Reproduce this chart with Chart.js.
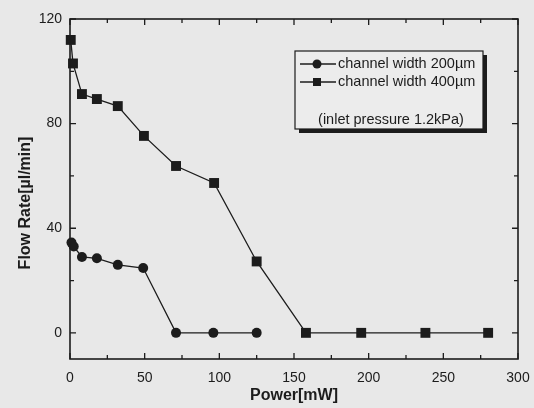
<!DOCTYPE html>
<html>
<head>
<meta charset="utf-8">
<script src="https://cdn.jsdelivr.net/npm/chart.js@4"></script>
<style>
  html, body { margin: 0; padding: 0; background: #e8e8e8; }
  #wrap { width: 534px; height: 408px; }
</style>
</head>
<body>
<div id="wrap"><canvas id="flowChart" width="534" height="408"></canvas></div>
<script>
// values
const power200 = [1, 2.5, 8, 18, 32, 49, 71, 96, 125];
const flow200 = [34.5, 33, 29, 28.5, 26, 24.8, 0, 0, 0];
const power400 = [0.5, 2, 8, 18, 32, 49.5, 71, 96.5, 125, 158, 195, 238, 280];
const flow400 = [112, 103, 91.3, 89.4, 86.7, 75.3, 63.8, 57.3, 27.3, 0, 0, 0, 0];

const xMajor = [0, 50, 100, 150, 200, 250, 300];
const xMinor = [25, 75, 125, 175, 225, 275];
const yMajor = [0, 40, 80, 120];
const yMinor = [20, 60, 100];

const legendLabels = ['channel width 200\u00b5m', 'channel width 400\u00b5m'];
const noteText = '(inlet pressure 1.2kPa)';
const yTitle = 'Flow Rate[\u00b5l/min]';

const ink = '#1c1c1c';
const fontFamily = 'Arial, "Liberation Sans", sans-serif';

function toPoints(xs, ys) {
  return xs.map((x, i) => ({ x: x, y: ys[i] }));
}

// frame with inward ticks on all four sides, plus the y title
const framePlugin = {
  id: 'frame',
  afterDraw(chart) {
    const ctx = chart.ctx;
    const a = chart.chartArea;
    const xs = chart.scales.x;
    const ys = chart.scales.y;
    ctx.save();
    ctx.strokeStyle = ink;
    ctx.lineWidth = 1.6;
    ctx.strokeRect(a.left, a.top, a.right - a.left, a.bottom - a.top);
    ctx.lineWidth = 1.3;
    ctx.beginPath();
    const xt = (v, len) => {
      const p = xs.getPixelForValue(v);
      ctx.moveTo(p, a.bottom); ctx.lineTo(p, a.bottom - len);
      ctx.moveTo(p, a.top); ctx.lineTo(p, a.top + len);
    };
    const yt = (v, len) => {
      const p = ys.getPixelForValue(v);
      ctx.moveTo(a.left, p); ctx.lineTo(a.left + len, p);
      ctx.moveTo(a.right, p); ctx.lineTo(a.right - len, p);
    };
    xMajor.forEach(v => xt(v, 6));
    xMinor.forEach(v => xt(v, 4));
    yMajor.forEach(v => yt(v, 6));
    yMinor.forEach(v => yt(v, 4));
    ctx.stroke();

    ctx.translate(26, 203);
    ctx.rotate(-Math.PI / 2);
    ctx.font = 'bold 16px ' + fontFamily;
    ctx.fillStyle = ink;
    ctx.textAlign = 'center';
    ctx.textBaseline = 'middle';
    ctx.fillText(yTitle, 0, 0);
    ctx.restore();
  }
};

// boxed legend with drop shadow
const legendBoxPlugin = {
  id: 'legendBox',
  afterDraw(chart) {
    const ctx = chart.ctx;
    const bx = 295, by = 51, bw = 188, bh = 78;
    ctx.save();
    ctx.fillStyle = ink;
    ctx.fillRect(bx + 4, by + 4, bw, bh);
    ctx.fillStyle = '#ececec';
    ctx.fillRect(bx, by, bw, bh);
    ctx.strokeStyle = ink;
    ctx.lineWidth = 1.2;
    ctx.strokeRect(bx, by, bw, bh);

    ctx.font = '14.5px ' + fontFamily;
    ctx.textBaseline = 'middle';
    ctx.fillStyle = ink;
    const rows = [64, 82];
    chart.data.datasets.forEach((ds, i) => {
      const y = rows[i];
      ctx.beginPath();
      ctx.moveTo(300, y); ctx.lineTo(336, y);
      ctx.lineWidth = 1.3;
      ctx.stroke();
      ctx.beginPath();
      if (ds.pointStyle === 'rect') {
        ctx.rect(313, y - 4, 8, 8);
      } else {
        ctx.arc(317, y, 4.5, 0, Math.PI * 2);
      }
      ctx.fill();
      ctx.textAlign = 'left';
      ctx.fillText(ds.label, 338, y);
    });
    ctx.textAlign = 'center';
    ctx.fillText(noteText, 391, 120);
    ctx.restore();
  }
};

const ctx = document.getElementById('flowChart').getContext('2d');
new Chart(ctx, {
  type: 'scatter',
  data: {
    datasets: [
      {
        label: legendLabels[0],
        data: toPoints(power200, flow200),
        showLine: true,
        borderColor: ink,
        borderWidth: 1.3,
        backgroundColor: ink,
        pointStyle: 'circle',
        pointRadius: 5,
        pointBorderWidth: 0
      },
      {
        label: legendLabels[1],
        data: toPoints(power400, flow400),
        showLine: true,
        borderColor: ink,
        borderWidth: 1.3,
        backgroundColor: ink,
        pointStyle: 'rect',
        pointRadius: 7,
        pointBorderWidth: 0
      }
    ]
  },
  options: {
    responsive: false,
    animation: false,
    clip: false,
    layout: { padding: { top: 19, right: 16, left: 0, bottom: 0 } },
    plugins: {
      legend: { display: false },
      tooltip: { enabled: false }
    },
    scales: {
      x: {
        type: 'linear',
        min: 0,
        max: 300,
        afterBuildTicks: scale => { scale.ticks = xMajor.map(v => ({ value: v })); },
        afterFit: scale => {
          scale.height = 49;
          scale.paddingLeft = 0;
          scale.paddingRight = 0;
        },
        grid: { display: false, drawTicks: false },
        border: { display: false },
        ticks: {
          padding: 11,
          color: ink,
          font: { family: fontFamily, size: 14 },
          maxRotation: 0
        },
        title: {
          display: true,
          text: 'Power[mW]',
          color: ink,
          font: { family: fontFamily, size: 16, weight: 'bold' },
          padding: { top: 0, bottom: 3 }
        }
      },
      y: {
        type: 'linear',
        min: -10,
        max: 120,
        afterBuildTicks: scale => { scale.ticks = yMajor.map(v => ({ value: v })); },
        afterFit: scale => {
          scale.width = 70;
          scale.paddingTop = 0;
          scale.paddingBottom = 0;
        },
        grid: { display: false, drawTicks: false },
        border: { display: false },
        ticks: {
          padding: 8,
          color: ink,
          font: { family: fontFamily, size: 14 }
        }
      }
    }
  },
  plugins: [framePlugin, legendBoxPlugin]
});
</script>
</body>
</html>
